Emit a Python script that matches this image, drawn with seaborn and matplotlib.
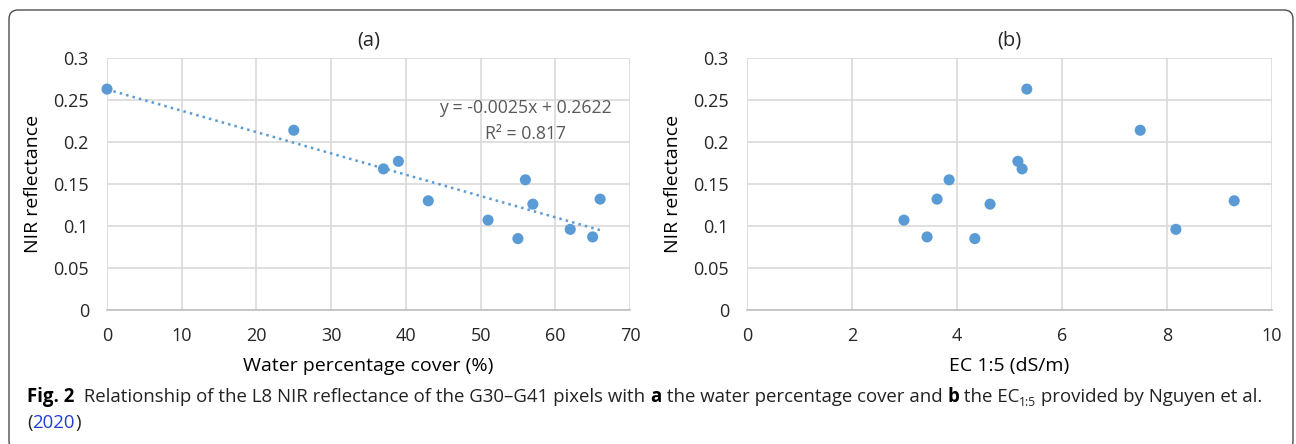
import numpy as np
import pandas as pd
import matplotlib
matplotlib.use("Agg")
import matplotlib.pyplot as plt
from matplotlib.patches import FancyBboxPatch
from matplotlib.transforms import IdentityTransform
import seaborn as sns

# data
water_cover = [0, 25, 37, 39, 43, 51, 55, 56, 57, 62, 65, 66]
nir = [0.263, 0.214, 0.168, 0.177, 0.130, 0.107, 0.085, 0.155, 0.126, 0.096, 0.087, 0.132]
ec15 = [5.33, 7.49, 5.24, 5.16, 9.28, 2.99, 4.34, 3.85, 4.63, 8.17, 3.43, 3.62]
y_ticks = [0, 0.05, 0.1, 0.15, 0.2, 0.25, 0.3]
y_labels = ["0", "0.05", "0.1", "0.15", "0.2", "0.25", "0.3"]

df = pd.DataFrame({"water": water_cover, "nir": nir, "ec": ec15})

sns.set_style("white")
plt.rcParams["font.family"] = ["Open Sans", "DejaVu Sans"]

blue = "#5b9bd5"
grid_c = "#d9d9d9"
txt_c = "#262626"

fig = plt.figure(figsize=(12.96, 4.44), dpi=100)
W, H = 1296, 444

def ax_rect(x0, x1, ytop, ybot):
    return [x0 / W, 1 - ybot / H, (x1 - x0) / W, (ybot - ytop) / H]

ax1 = fig.add_axes(ax_rect(107, 630, 58, 310))
ax2 = fig.add_axes(ax_rect(747, 1272, 58, 310))

# (a) scatter + linear trend
sns.regplot(data=df, x="water", y="nir", ax=ax1, ci=None, scatter=False,
            line_kws={"color": blue, "linestyle": ":", "linewidth": 1.8})
sns.scatterplot(data=df, x="water", y="nir", ax=ax1, color=blue, s=64,
                edgecolor="none", zorder=3, clip_on=False)
ax1.set_xlim(0, 70)
ax1.set_xticks(range(0, 71, 10))
ax1.set_xlabel("Water percentage cover (%)", fontsize=14, color="black", labelpad=9)
ax1.set_title("(a)", fontsize=14.5, pad=9)
ax1.text(0.80, 0.80, "y = -0.0025x + 0.2622", transform=ax1.transAxes,
         ha="center", va="center", fontsize=12.7, color="#595959")
ax1.text(0.80, 0.70, "R² = 0.817", transform=ax1.transAxes,
         ha="center", va="center", fontsize=12.7, color="#595959")

# (b) scatter only
sns.scatterplot(data=df, x="ec", y="nir", ax=ax2, color=blue, s=64,
                edgecolor="none", zorder=3, clip_on=False)
ax2.set_xlim(0, 10)
ax2.set_xticks(range(0, 11, 2))
ax2.set_xlabel("EC 1:5 (dS/m)", fontsize=14, color="black", labelpad=9)
ax2.set_title("(b)", fontsize=14.5, pad=9)

for ax in (ax1, ax2):
    ax.set_ylim(0, 0.3)
    ax.set_yticks(y_ticks)
    ax.set_yticklabels(y_labels)
    ax.set_ylabel("NIR reflectance", fontsize=14, color="black", labelpad=8)
    ax.grid(True, color=grid_c, linewidth=1.2)
    ax.set_axisbelow(True)
    for s in ("top", "right", "left"):
        ax.spines[s].set_visible(False)
    ax.spines["bottom"].set_color("#bfbfbf")
    ax.spines["bottom"].set_linewidth(1.2)
    ax.tick_params(axis="both", length=0, labelsize=13, colors=txt_c)
    ax.tick_params(axis="x", pad=12)
    ax.tick_params(axis="y", pad=13)

# rounded frame around the figure (pixel coords)
frame = FancyBboxPatch((9, -6), 1284, 440,
                       boxstyle="round,pad=0,rounding_size=9",
                       transform=IdentityTransform(), fill=False,
                       edgecolor="#4d4d4d", linewidth=1.0)
fig.patches.append(frame)

# caption, drawn piece by piece
fig.canvas.draw()
renderer = fig.canvas.get_renderer()
cap_size = 13.4

def put(x, y, s, **kw):
    t = fig.text(x / W, 1 - y / H, s, fontsize=kw.pop("size", cap_size),
                 va="baseline", ha="left", color=kw.pop("color", "#222222"), **kw)
    bb = t.get_window_extent(renderer)
    return x + bb.width

y1 = 402
x = 27
x = put(x, y1, "Fig. 2", fontweight="bold", color="black")
x = put(x, y1, "  Relationship of the L8 NIR reflectance of the G30–G41 pixels with ")
x = put(x, y1, "a", fontweight="bold", color="black")
x = put(x, y1, " the water percentage cover and ")
x = put(x, y1, "b", fontweight="bold", color="black")
x = put(x, y1, " the EC")
x = put(x, y1 + 4, "1:5", size=cap_size * 0.65)
x = put(x, y1, " provided by Nguyen et al.")

y2 = 428
x = 27
x = put(x, y2, "(")
x = put(x, y2, "2020", color="#1f3fd6")
x = put(x, y2, ")")

fig.savefig("out.png", dpi=100)
